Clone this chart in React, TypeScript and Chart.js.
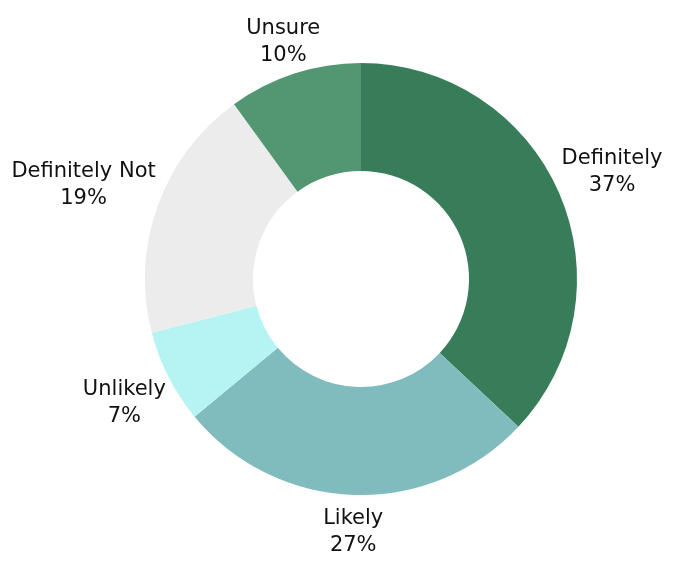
import React, { useEffect, useRef } from "react";
import { Chart, registerables } from "chart.js";

Chart.register(...registerables);

const categories = ["Definitely", "Likely", "Unlikely", "Definitely Not", "Unsure"];
const values = [37, 27, 7, 19, 10];
const colors = ["#387D5A", "#80BCBD", "#B5F4F2", "#ECECEC", "#529672"];

const FONT_SIZE = 21;
const FONT = FONT_SIZE + 'px "DejaVu Sans", sans-serif';
const LINE_H = 27;

const labelPlugin = {
  id: "outsideLabels",
  afterDatasetsDraw(chart: any) {
    const ctx = chart.ctx;
    const meta = chart.getDatasetMeta(0);
    const total = values.reduce((a, b) => a + b, 0);
    ctx.save();
    ctx.font = FONT;
    ctx.fillStyle = "#111111";
    ctx.textAlign = "center";
    ctx.textBaseline = "alphabetic";
    const capH = 0.73 * FONT_SIZE;
    meta.data.forEach((arc: any, i: number) => {
      const { x, y, startAngle, endAngle, outerRadius } = arc.getProps(
        ["x", "y", "startAngle", "endAngle", "outerRadius"],
        true
      );
      const mid = (startAngle + endAngle) / 2;
      const c = Math.cos(mid);
      const s = Math.sin(mid);
      const lines = [categories[i], Math.round((values[i] / total) * 100) + "%"];
      const w = Math.max(...lines.map((l) => ctx.measureText(l).width));
      const hw = w / 2;
      const boxH = LINE_H * (lines.length - 1) + capH;
      const hh = boxH / 2;
      const r = outerRadius;
      const dx =
        Math.sign(c) *
        (hw * Math.min(1, 1.5 * c * c) + 6 * Math.abs(s) * Math.min(1, 5 * Math.abs(c)));
      const dy = Math.sign(s) * (hh * Math.min(1, 3 * Math.abs(s)) + 14 * s * s);
      const cx = x + r * c + dx;
      const cy = y + r * s + dy;
      const top = cy - hh;
      lines.forEach((l, k) => {
        ctx.fillText(l, cx, top + capH + LINE_H * k);
      });
    });
    ctx.restore();
  },
};

export default function App() {
  const ref = useRef<HTMLCanvasElement>(null);
  useEffect(() => {
    document.body.style.margin = "0";
    const chart = new Chart(ref.current!, {
      type: "doughnut",
      data: {
        labels: categories,
        datasets: [
          {
            data: values,
            backgroundColor: colors,
            borderWidth: 0,
          },
        ],
      },
      options: {
        responsive: false,
        animation: false,
        cutout: "50%",
        layout: { padding: { left: 145, right: 98, top: 63, bottom: 69 } },
        plugins: { legend: { display: false }, tooltip: { enabled: false } },
      },
      plugins: [labelPlugin],
    });
    return () => chart.destroy();
  }, []);
  return (
    <div style={{ width: 675, height: 564 }}>
      <canvas ref={ref} width={675} height={564} style={{ width: 675, height: 564 }} />
    </div>
  );
}
